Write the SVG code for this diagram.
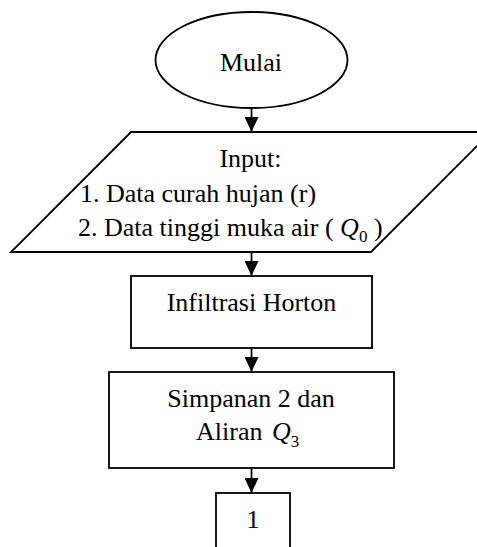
<svg xmlns="http://www.w3.org/2000/svg" width="477" height="547" viewBox="0 0 477 547">
<style>
.s{fill:#fff;stroke:#000;stroke-width:1.8}
.t{font-size:26px;fill:#000}
.c{stroke:#000;stroke-width:1.8;fill:none;marker-end:url(#ah)}
</style>
<defs>
<marker id="ah" markerUnits="userSpaceOnUse" markerWidth="15" markerHeight="14" refX="15" refY="7" orient="auto">
<path d="M0,0 L15,7 L0,14 z" fill="#000"/>
</marker>
</defs>
<rect width="477" height="547" fill="#fff"/>
<g id="connectors">
<line class="c" x1="251.5" y1="108" x2="251.5" y2="132"/>
<line class="c" x1="251.5" y1="252" x2="251.5" y2="276"/>
<line class="c" x1="251.5" y1="348" x2="251.5" y2="372"/>
<line class="c" x1="251.5" y1="468" x2="251.5" y2="493"/>
</g>
<g font-family="Liberation Serif, Tinos, Times New Roman, DejaVu Serif, serif">
<g id="mulai">
<ellipse class="s" cx="251.5" cy="60" rx="96" ry="48"/>
<text class="t" x="251" y="71" text-anchor="middle">Mulai</text>
</g>
<g id="input">
<polygon class="s" points="131,132 491,132 371,252 11,252"/>
<text class="t" x="250.5" y="167" text-anchor="middle">Input:</text>
<text class="t" x="80" y="202">1. Data curah hujan (r)</text>
<text class="t" x="78" y="236">2. Data tinggi muka air ( <tspan font-style="italic">Q</tspan><tspan font-size="17" dy="6">0</tspan><tspan dy="-6"> )</tspan></text>
</g>
<g id="horton">
<rect class="s" x="131" y="276" width="241" height="72"/>
<text class="t" x="251.5" y="311" text-anchor="middle">Infiltrasi Horton</text>
</g>
<g id="simpanan">
<rect class="s" x="109" y="372" width="285" height="96"/>
<text class="t" x="251" y="407" text-anchor="middle">Simpanan 2 dan</text>
<text class="t" x="196" y="440">Aliran <tspan font-style="italic" dx="3">Q</tspan><tspan font-size="17" dy="7">3</tspan></text>
</g>
<g id="connector1">
<rect class="s" x="216" y="493" width="74" height="70"/>
<text class="t" x="253" y="528" text-anchor="middle">1</text>
</g>
</g>
</svg>
